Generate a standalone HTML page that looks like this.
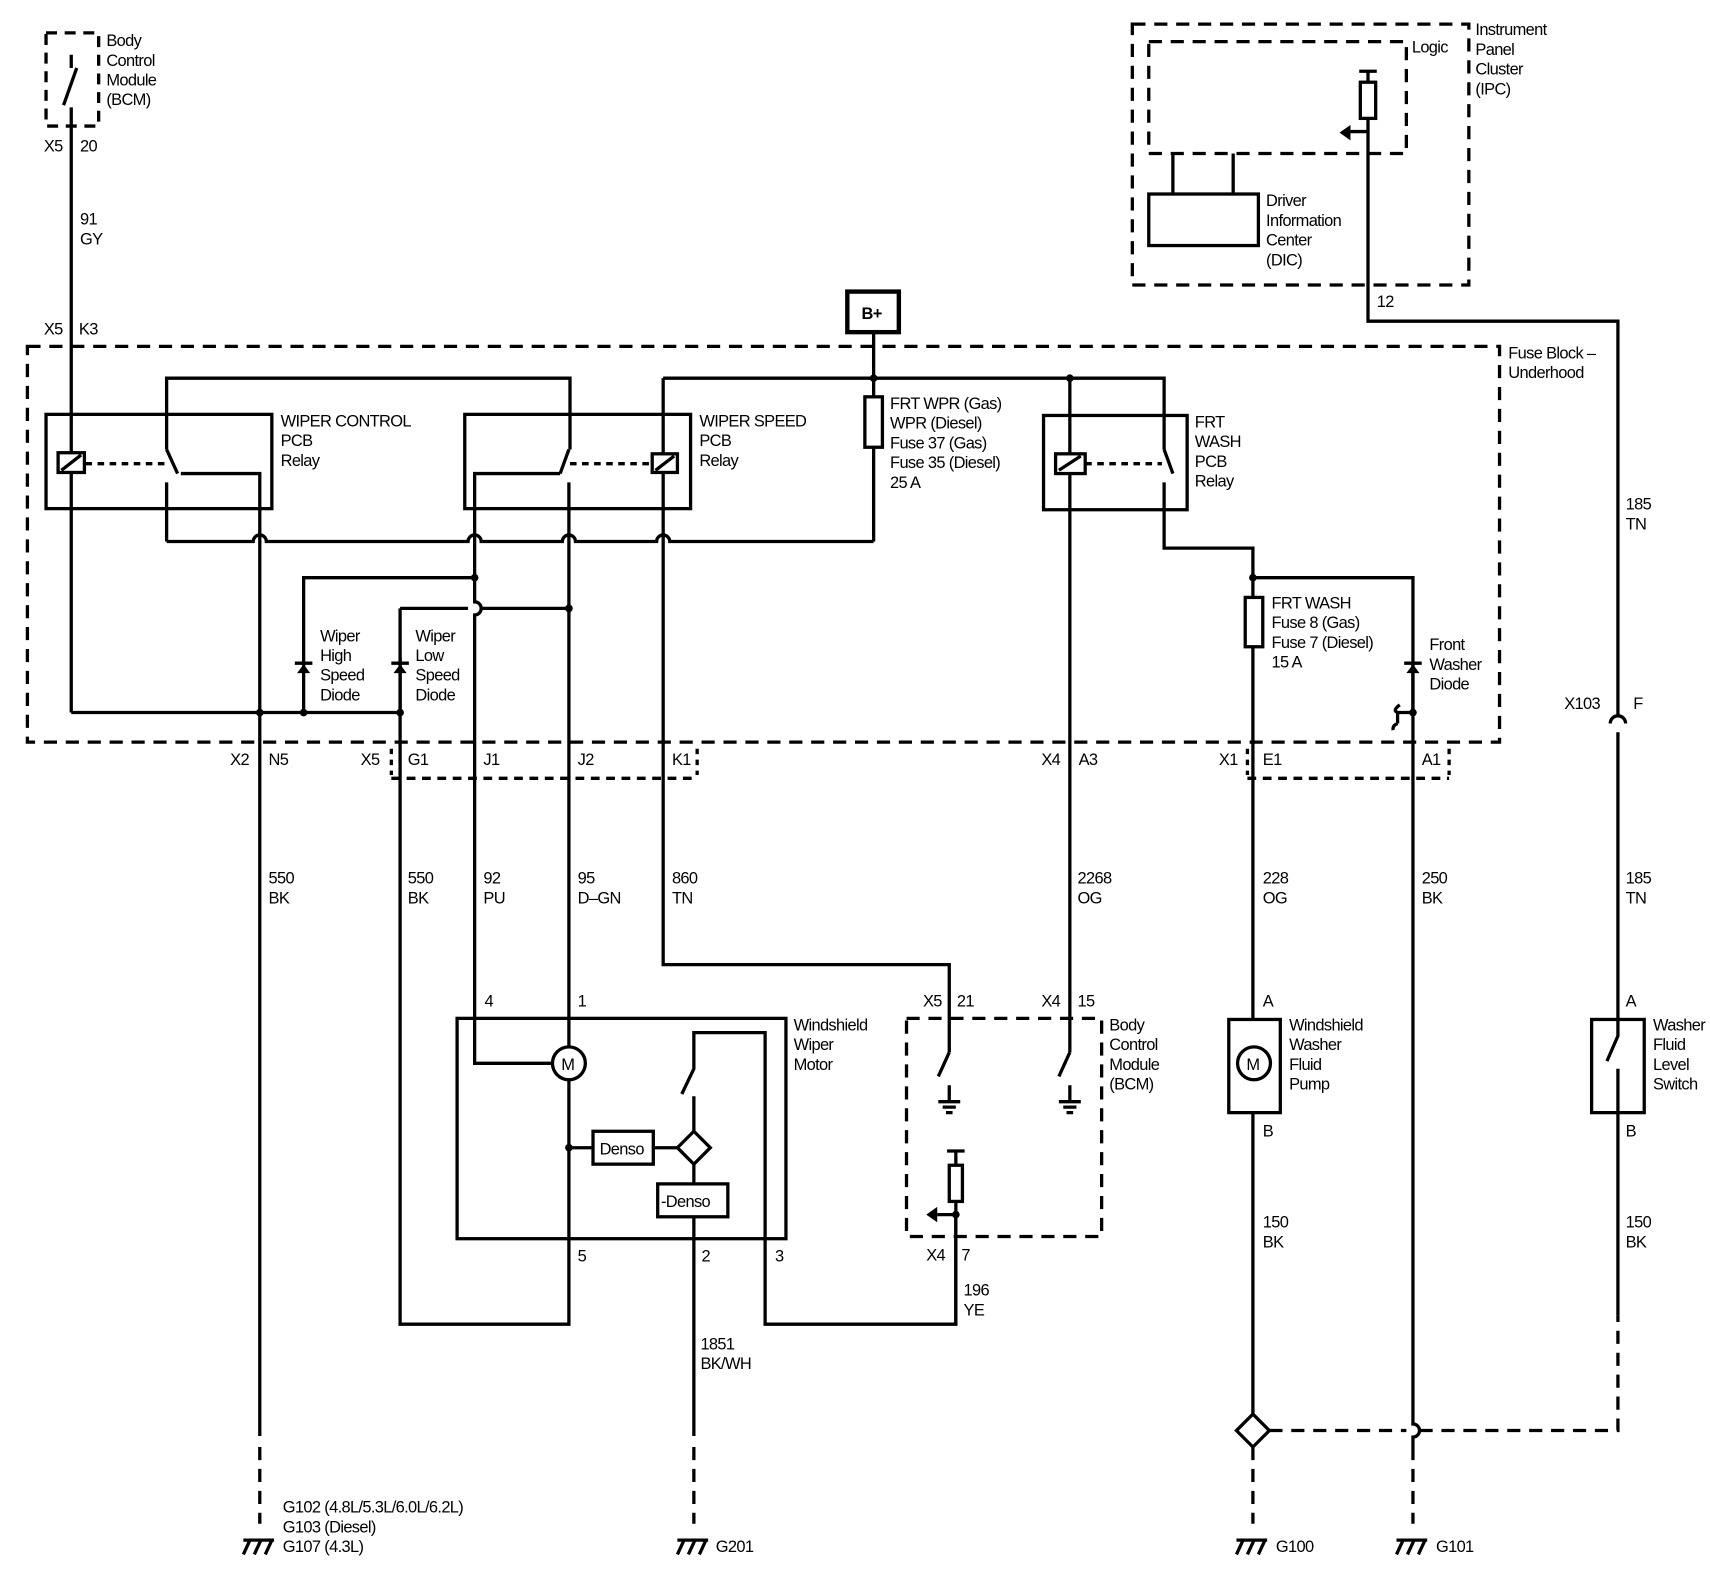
<!DOCTYPE html>
<html><head><meta charset="utf-8"><style>
html,body{margin:0;padding:0;background:#fff;}
svg{display:block;}
text{font-family:"Liberation Sans Narrow","Liberation Sans",sans-serif;font-size:15px;fill:#000;letter-spacing:-0.6px;}
</style></head><body>
<svg width="1710" height="1584" viewBox="0 0 1560 1445" preserveAspectRatio="none" xmlns="http://www.w3.org/2000/svg">
<g fill="none" stroke="#000" stroke-width="3">
<rect x="42" y="30" width="48" height="85" stroke-dasharray="10 7"/>
<path d="M65 50V62 M70 62L58 96 M65 98V650"/>
<rect x="25" y="316" width="1343" height="361" stroke-dasharray="12 8"/>
<rect x="773" y="266" width="47" height="37" stroke-width="4"/>
<path d="M797 303V362 M797 408V494"/>
<rect x="789" y="362" width="16" height="46"/>
<path d="M152 410V345H520V410 M605 345H1062V410"/>
<rect x="42" y="378" width="206" height="86"/>
<rect x="53" y="413" width="24" height="18" fill="#fff"/>
<path d="M56 429L74 415"/>
<path d="M78 423H152" stroke-dasharray="6 5"/>
<path d="M152 410L162 432 M165 432H237V650 M152 440V494"/>
<path d="M152 494H231a6 6 0 0 1 12 0H427a6 6 0 0 1 12 0H513a6 6 0 0 1 12 0H599a6 6 0 0 1 12 0H797"/>
<rect x="424" y="378" width="206" height="86"/>
<path d="M519 410L511 432 M511 432H433V549a6 6 0 0 1 0 12V970H504 M519 440V955 M519 985V1208H365V555"/>
<path d="M520 423H595" stroke-dasharray="6 5"/>
<path d="M605 345V880H866V960"/>
<rect x="595" y="414" width="23" height="17" fill="#fff"/>
<path d="M598 429L615 416"/>
<path d="M277 650V527H433 M365 555H427 M439 555H519 M65 650H365"/>
<path d="M269 605H285 M365 600V650"/>
<path d="M357 605H373"/>
</g>
<g fill="#000">
<polygon points="277,606 271,614 283,614"/>
<polygon points="365,606 359,614 371,614"/>
<circle cx="237" cy="650" r="3.5"/><circle cx="277" cy="650" r="3.5"/><circle cx="365" cy="650" r="3.5"/>
<circle cx="433" cy="527" r="3.5"/><circle cx="519" cy="555" r="3.5"/><circle cx="797" cy="345" r="3.5"/><circle cx="976" cy="345" r="3.5"/>
<circle cx="1143" cy="527" r="3.5"/><circle cx="1289" cy="650" r="3.5"/><circle cx="519" cy="1047" r="3.5"/><circle cx="872" cy="1108" r="3.5"/>
<polygon points="1289,606 1283,614 1295,614"/>
<polygon points="845,1108 855,1101 855,1115"/>
<polygon points="1222,121 1232,114 1232,128"/>
</g>
<g fill="none" stroke="#000" stroke-width="3">
<rect x="952" y="379" width="131" height="86"/>
<path d="M976 345V960 M1062 410L1070 432 M1062 440V500H1143V545 M1143 590V930 M1143 527H1289V650"/>
<rect x="963" y="414" width="27" height="18" fill="#fff"/>
<path d="M966 429L986 416"/>
<path d="M990 423H1060" stroke-dasharray="6 5"/>
<rect x="1136" y="545" width="16" height="45"/>
<path d="M1281 605H1297 M1289 605V1299a6 6 0 0 1 0 12V1320 M1289 650H1275V660 M1277 643Q1270 648 1275 650 M1275 660Q1270 662 1271 666"/>
<path d="M357 683V707 M636 683V707 M1138 683V707 M1322 683V707" stroke-dasharray="5 5"/>
<path d="M357 710H636 M1138 710H1322" stroke-dasharray="8 6"/>
<rect x="417" y="929" width="300" height="201"/>
<circle cx="519" cy="970" r="15" fill="#fff"/>
<path d="M519 1047H541"/>
<rect x="541" y="1032" width="55" height="30"/>
<path d="M596 1047H618 M618 1047L633 1032L648 1047L633 1062Z"/>
<path d="M633 1062V1080"/>
<rect x="600" y="1080" width="64" height="30"/>
<path d="M633 1110V1310 M633 1000V1032 M622 998L633 975V942H698V1208H872V1108"/>
<path d="M237 650V1310"/>
<path d="M237 1320V1390 M633 1320V1390" stroke-dasharray="12 8"/>
<rect x="827" y="929" width="178" height="199" stroke-dasharray="12 8"/>
<path d="M866 960L856 982 M866 990V1005 M856 1005H876 M860 1010H872 M863 1015H869"/>
<path d="M976 960L966 982 M976 990V1005 M966 1005H986 M970 1010H982 M973 1015H979"/>
<path d="M864 1050H880 M872 1050V1063 M872 1096V1208 M855 1108H872"/>
<rect x="866" y="1063" width="12" height="33"/>
<rect x="1121" y="930" width="47" height="85"/>
<circle cx="1144" cy="970" r="15" fill="#fff"/>
<path d="M1143 1015V1290"/>
<path d="M1143 1290L1158 1305L1143 1320L1128 1305Z"/>
<path d="M1143 1320V1390 M1289 1320V1390" stroke-dasharray="12 8"/>
<path d="M1158 1305H1283 M1295 1305H1476V1200" stroke-dasharray="12 8"/>
<rect x="1452" y="930" width="48" height="85"/>
<path d="M1476 930V945L1466 968 M1476 975V1200 M1476 930V668 M1469 660a7 7 0 0 1 14 0 M1476 653V293H1248V108 M1248 120H1232"/>
<rect x="1033" y="22" width="307" height="238" stroke-dasharray="12 8"/>
<rect x="1048" y="38" width="235" height="102" stroke-dasharray="12 8"/>
<rect x="1241" y="75" width="14" height="33"/>
<path d="M1240 65H1256 M1248 65V75"/>
<rect x="1048" y="177" width="100" height="47"/>
<path d="M1070 177V140 M1125 177V140"/>
<path d="M222 1405H250 M228 1405L222 1418 M238 1405L232 1418 M248 1405L242 1418"/>
<path d="M618 1405H646 M624 1405L618 1418 M634 1405L628 1418 M644 1405L638 1418"/>
<path d="M1128 1405H1156 M1134 1405L1128 1418 M1144 1405L1138 1418 M1154 1405L1148 1418"/>
<path d="M1274 1405H1302 M1280 1405L1274 1418 M1290 1405L1284 1418 M1300 1405L1294 1418"/>
</g>
<text font-size="16" x="786" y="291" font-weight="bold">B+</text>
<g>
<text x="97" y="42">Body</text><text x="97" y="60">Control</text><text x="97" y="78">Module</text><text x="97" y="96">(BCM)</text>
<text x="40" y="138">X5</text><text x="73" y="138">20</text>
<text x="73" y="205">91</text><text x="73" y="223">GY</text>
<text x="40" y="305">X5</text><text x="72" y="305">K3</text>
<text x="1376" y="327">Fuse Block –</text><text x="1376" y="345">Underhood</text>
<text x="256" y="389">WIPER CONTROL</text><text x="256" y="407">PCB</text><text x="256" y="425">Relay</text>
<text x="638" y="389">WIPER SPEED</text><text x="638" y="407">PCB</text><text x="638" y="425">Relay</text>
<text x="812" y="373">FRT WPR (Gas)</text><text x="812" y="391">WPR (Diesel)</text><text x="812" y="409">Fuse 37 (Gas)</text><text x="812" y="427">Fuse 35 (Diesel)</text><text x="812" y="445">25 A</text>
<text x="1090" y="390">FRT</text><text x="1090" y="408">WASH</text><text x="1090" y="426">PCB</text><text x="1090" y="444">Relay</text>
<text x="1160" y="555">FRT WASH</text><text x="1160" y="573">Fuse 8 (Gas)</text><text x="1160" y="591">Fuse 7 (Diesel)</text><text x="1160" y="609">15 A</text>
<text x="1304" y="593">Front</text><text x="1304" y="611">Washer</text><text x="1304" y="629">Diode</text>
<text x="292" y="585">Wiper</text><text x="292" y="603">High</text><text x="292" y="621">Speed</text><text x="292" y="639">Diode</text>
<text x="379" y="585">Wiper</text><text x="379" y="603">Low</text><text x="379" y="621">Speed</text><text x="379" y="639">Diode</text>
<text x="210" y="698">X2</text><text x="245" y="698">N5</text>
<text x="329" y="698">X5</text><text x="372" y="698">G1</text><text x="441" y="698">J1</text><text x="527" y="698">J2</text><text x="613" y="698">K1</text>
<text x="950" y="698">X4</text><text x="984" y="698">A3</text>
<text x="1112" y="698">X1</text><text x="1152" y="698">E1</text><text x="1297" y="698">A1</text>
<text x="1427" y="647">X103</text><text x="1490" y="647">F</text>
<text x="1483" y="465">185</text><text x="1483" y="483">TN</text>
<text x="1346" y="32">Instrument</text><text x="1346" y="50">Panel</text><text x="1346" y="68">Cluster</text><text x="1346" y="86">(IPC)</text>
<text x="1288" y="48">Logic</text>
<text x="1155" y="188">Driver</text><text x="1155" y="206">Information</text><text x="1155" y="224">Center</text><text x="1155" y="242">(DIC)</text>
<text x="1256" y="280">12</text>
<text x="245" y="806">550</text><text x="245" y="824">BK</text>
<text x="372" y="806">550</text><text x="372" y="824">BK</text>
<text x="441" y="806">92</text><text x="441" y="824">PU</text>
<text x="527" y="806">95</text><text x="527" y="824">D–GN</text>
<text x="613" y="806">860</text><text x="613" y="824">TN</text>
<text x="983" y="806">2268</text><text x="983" y="824">OG</text>
<text x="1152" y="806">228</text><text x="1152" y="824">OG</text>
<text x="1297" y="806">250</text><text x="1297" y="824">BK</text>
<text x="1483" y="806">185</text><text x="1483" y="824">TN</text>
<text x="442" y="918">4</text><text x="527" y="918">1</text>
<text x="724" y="940">Windshield</text><text x="724" y="958">Wiper</text><text x="724" y="976">Motor</text>
<text x="512" y="976" font-size="14">M</text><text x="1137" y="976" font-size="14">M</text>
<text x="547" y="1053">Denso</text><text x="603" y="1101">-Denso</text>
<text x="842" y="918">X5</text><text x="873" y="918">21</text><text x="950" y="918">X4</text><text x="983" y="918">15</text>
<text x="1012" y="940">Body</text><text x="1012" y="958">Control</text><text x="1012" y="976">Module</text><text x="1012" y="994">(BCM)</text>
<text x="845" y="1150">X4</text><text x="877" y="1150">7</text>
<text x="879" y="1182">196</text><text x="879" y="1200">YE</text>
<text x="527" y="1151">5</text><text x="640" y="1151">2</text><text x="707" y="1151">3</text>
<text x="639" y="1231">1851</text><text x="639" y="1249">BK/WH</text>
<text x="1152" y="918">A</text><text x="1152" y="1037">B</text>
<text x="1176" y="940">Windshield</text><text x="1176" y="958">Washer</text><text x="1176" y="976">Fluid</text><text x="1176" y="994">Pump</text>
<text x="1152" y="1120">150</text><text x="1152" y="1138">BK</text>
<text x="1483" y="918">A</text><text x="1483" y="1037">B</text>
<text x="1508" y="940">Washer</text><text x="1508" y="958">Fluid</text><text x="1508" y="976">Level</text><text x="1508" y="994">Switch</text>
<text x="1483" y="1120">150</text><text x="1483" y="1138">BK</text>
<text x="258" y="1380">G102 (4.8L/5.3L/6.0L/6.2L)</text><text x="258" y="1398">G103 (Diesel)</text><text x="258" y="1416">G107 (4.3L)</text>
<text x="653" y="1416">G201</text><text x="1164" y="1416">G100</text><text x="1310" y="1416">G101</text>
</g>
</svg>
</body></html>
